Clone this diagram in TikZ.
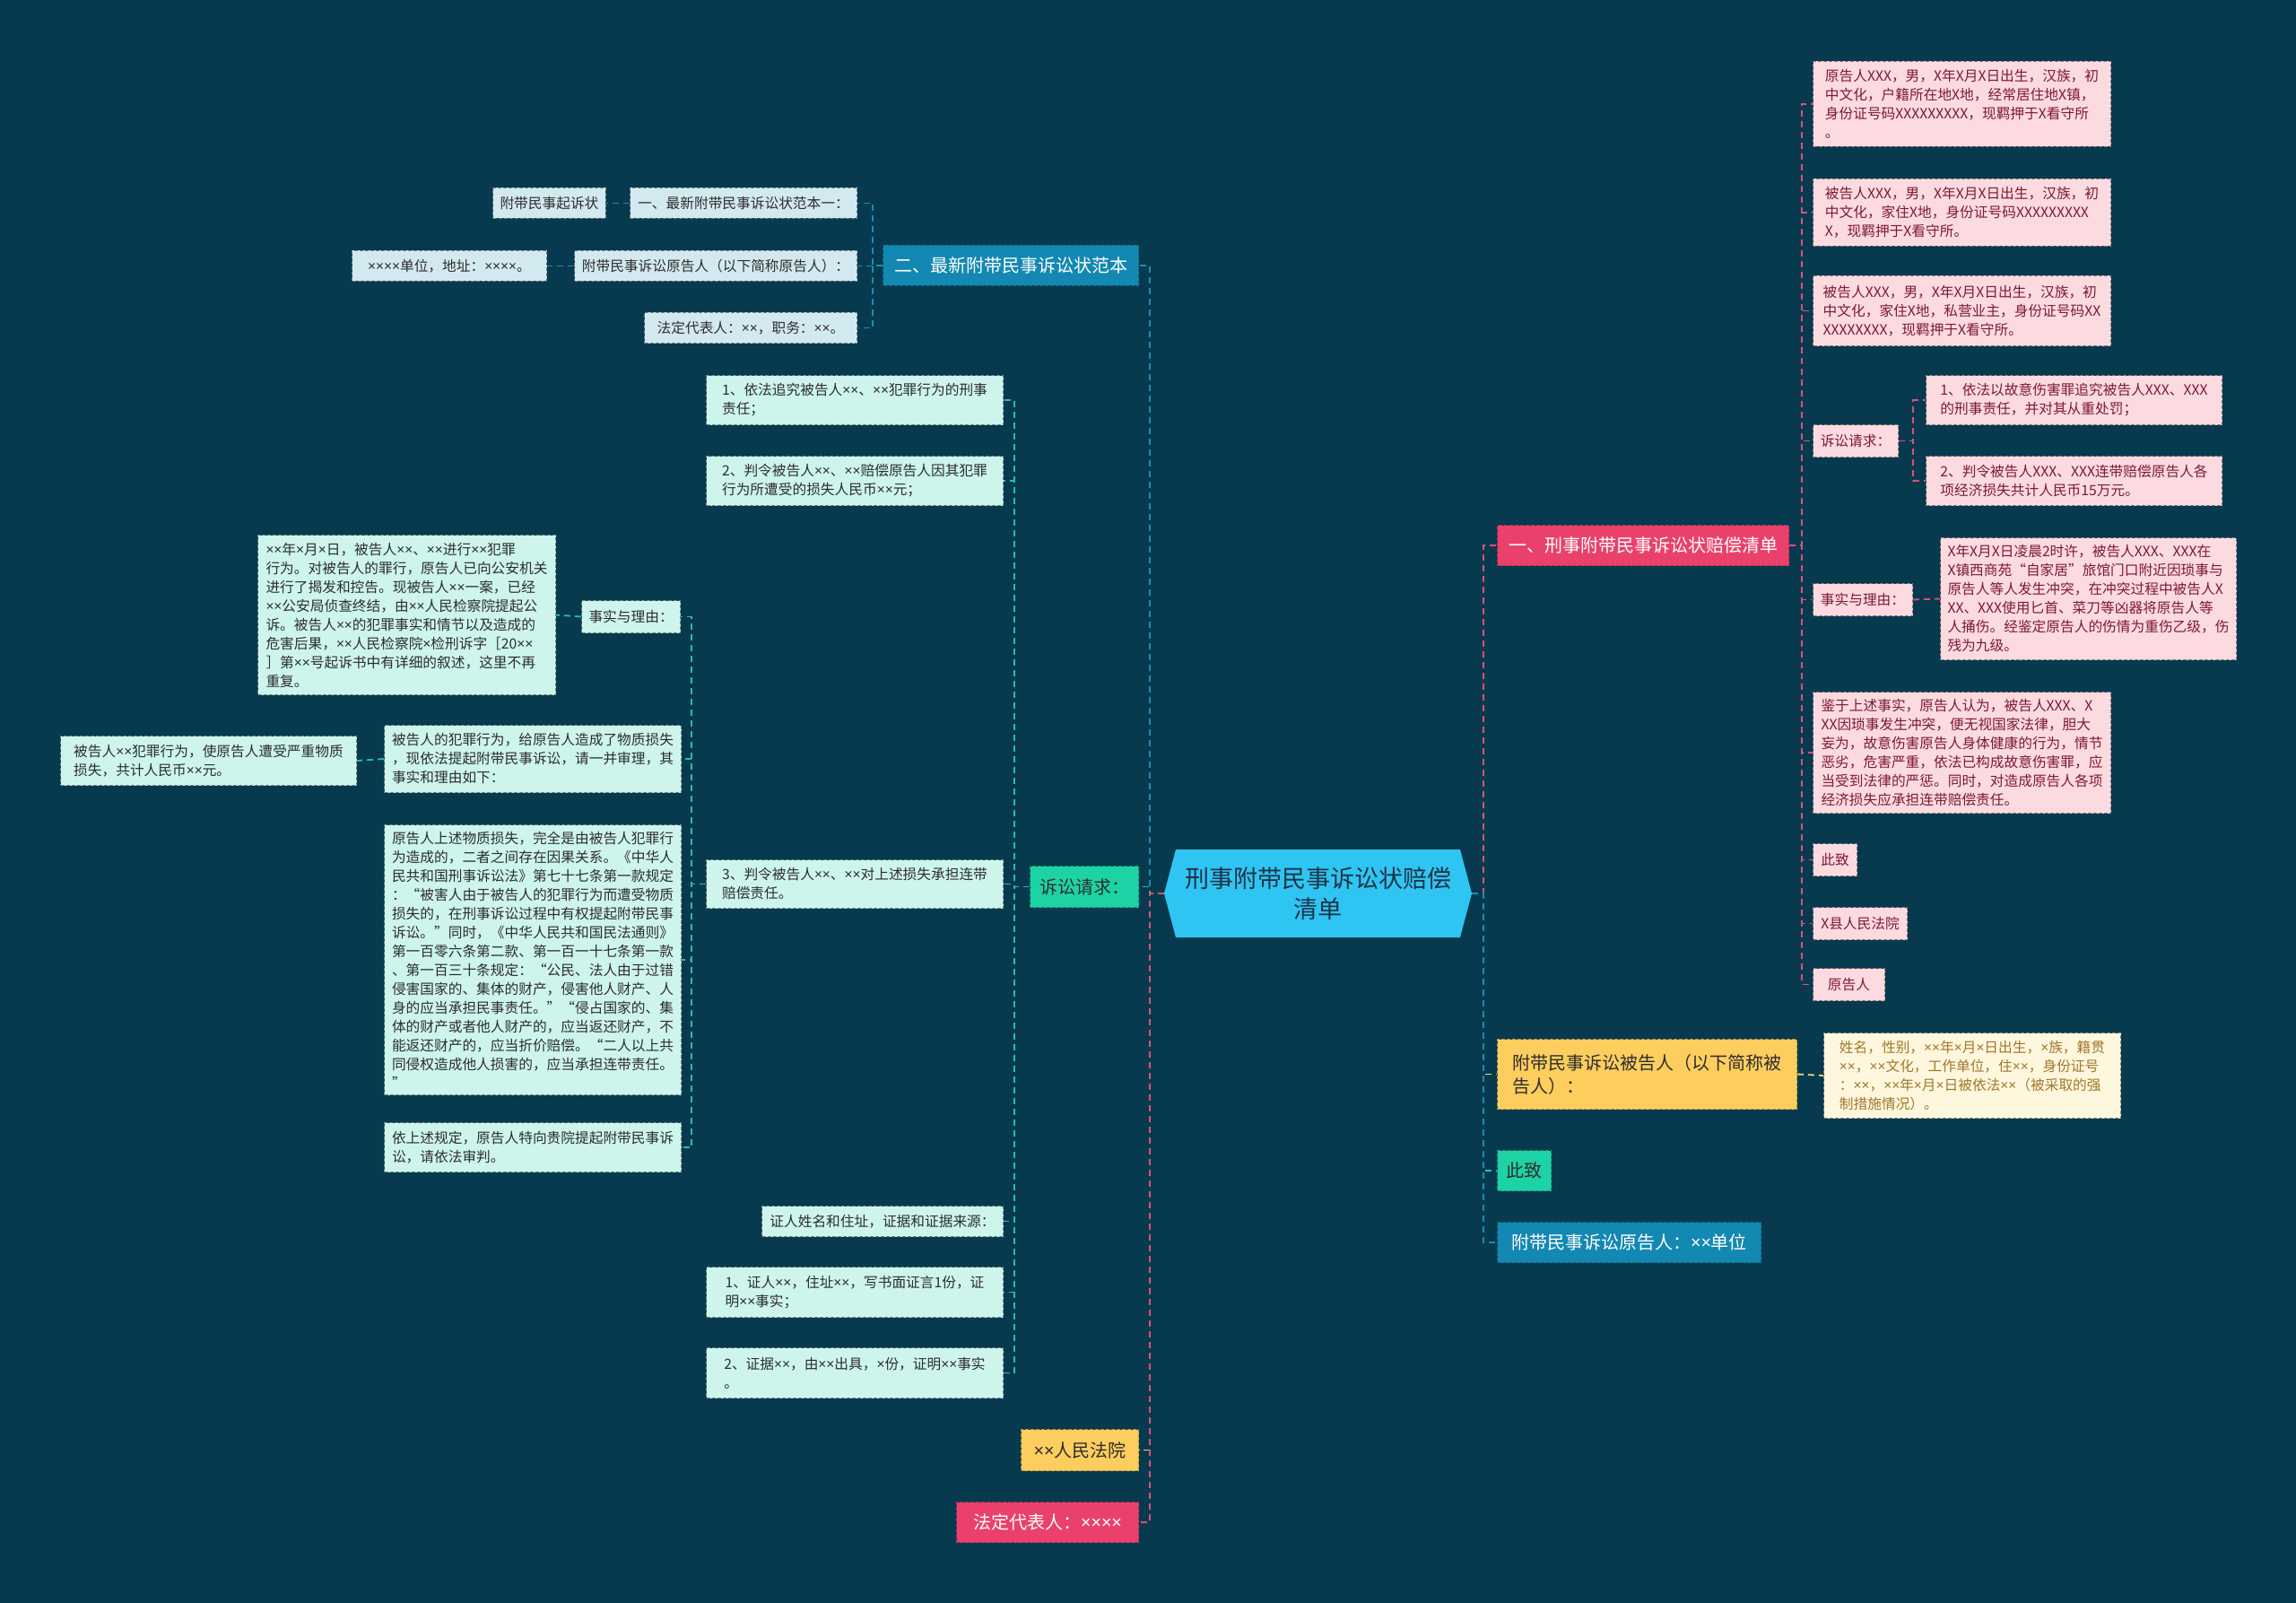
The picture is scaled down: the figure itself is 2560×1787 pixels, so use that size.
\documentclass[tikz,border=0pt]{standalone}
\usepackage{fontspec}
\setmainfont{Noto Sans CJK SC}
\newfontfamily\latf{Noto Sans}
\catcode`\×=\active
\def×{{\latf\symbol{"00D7}}}
\definecolor{bg}{RGB}{7,58,79}
\definecolor{cen}{RGB}{47,197,243}
\definecolor{cent}{RGB}{30,50,70}
\definecolor{blueA}{RGB}{19,136,178}
\definecolor{pinkA}{RGB}{233,65,108}
\definecolor{yelA}{RGB}{253,206,94}
\definecolor{grnA}{RGB}{29,211,165}
\definecolor{lbl}{RGB}{211,233,240}
\definecolor{mint}{RGB}{205,245,236}
\definecolor{pinkL}{RGB}{251,218,224}
\definecolor{yelL}{RGB}{255,246,222}
\definecolor{tpink}{RGB}{125,25,55}
\definecolor{tyel}{RGB}{160,120,40}
\definecolor{tdark}{RGB}{45,45,45}
\definecolor{cB}{RGB}{30,140,180}
\definecolor{cG}{RGB}{40,190,170}
\definecolor{cP}{RGB}{220,80,120}
\definecolor{cY}{RGB}{250,215,120}
\newcommand\fsleaf{\fontsize{15.7pt}{21pt}\selectfont}
\newcommand\fsone{\fontsize{20pt}{26pt}\selectfont}
\newcommand\fscen{\fontsize{27pt}{34pt}\selectfont}
\newcommand\bx[7]{\node[#2, minimum width={#5-#3}, minimum height={#6-#4}] (#1) at (#3,#4) {#7};}
\tikzset{
  base/.style={anchor=north west, align=left, inner xsep=8pt, inner ysep=3pt, dash pattern=on 4pt off 2pt, line width=1pt},
  leafA/.style={base, fill=lbl, draw=lbl!55!black, text=tdark, font=\fsleaf},
  leafB/.style={base, fill=mint, draw=mint!55!black, text=tdark, font=\fsleaf},
  leafP/.style={base, fill=pinkL, draw=pinkL!55!black, text=tpink, font=\fsleaf},
  leafY/.style={base, fill=yelL, draw=yelL!55!black, text=tyel, font=\fsleaf},
  oneB/.style={base, fill=blueA, draw=blueA!75!black, text=white, font=\fsone},
  oneP/.style={base, fill=pinkA, draw=pinkA!75!black, text=white, font=\fsone},
  oneY/.style={base, fill=yelA, draw=yelA!70!black, text=tdark, font=\fsone},
  oneG/.style={base, fill=grnA, draw=grnA!70!black, text=tdark, font=\fsone},
  conn/.style={line width=1.8pt, dash pattern=on 7pt off 5pt},
  lB/.style={conn, draw=cB},
  lG/.style={conn, draw=cG},
  lP/.style={conn, draw=cP},
  lY/.style={conn, draw=cY},
}
\begin{document}
\begin{tikzpicture}[x=1pt,y=-1pt]
\useasboundingbox (0,0) rectangle (2560,1787);
\fill[bg] (0,0) rectangle (2560,1787);

% central node
\fill[cen] (1311,947) -- (1628,947) -- (1641,996) -- (1628,1045) -- (1311,1045) -- (1298,996) -- cycle;
\node[font=\fscen, text=cent, align=center, minimum width=343pt, minimum height=98pt, inner sep=0pt] (C) at (1469.5,996) {刑事附带民事诉讼状赔偿\\清单};

% left level one
\bx{A}{oneB}{984}{273}{1269}{318}{二、最新附带民事诉讼状范本}
\bx{B}{oneG}{1148}{965}{1269}{1011}{诉讼请求：}
\bx{LY}{oneY}{1138}{1593}{1269}{1639}{××人民法院}
\bx{LP}{oneP}{1066}{1674}{1269}{1719}{法定代表人：××××}

% A children
\bx{A1}{leafA}{702}{209}{955}{243}{一、最新附带民事诉讼状范本一：}
\bx{A1c}{leafA}{549}{209}{674}{243}{附带民事起诉状}
\bx{A2}{leafA}{640}{279}{955}{313}{附带民事诉讼原告人（以下简称原告人）：}
\bx{A2c}{leafA}{392}{279}{609}{313}{××××单位，地址：××××。}
\bx{A3}{leafA}{718}{348}{955}{382}{法定代表人：××，职务：××。}

% B children
\bx{B1}{leafB}{787}{418}{1118}{473}{1、依法追究被告人××、××犯罪行为的刑事\\责任；}
\bx{B2}{leafB}{787}{508}{1118}{563}{2、判令被告人××、××赔偿原告人因其犯罪\\行为所遭受的损失人民币××元；}
\bx{B3}{leafB}{787}{958}{1118}{1012}{3、判令被告人××、××对上述损失承担连带\\赔偿责任。}
\bx{B3a}{leafB}{648}{669}{756}{705}{事实与理由：}
\bx{B3ac}{leafB}{287}{596}{619}{774}{××年×月×日，被告人××、××进行××犯罪\\行为。对被告人的罪行，原告人已向公安机关\\进行了揭发和控告。现被告人××一案，已经\\××公安局侦查终结，由××人民检察院提起公\\诉。被告人××的犯罪事实和情节以及造成的\\危害后果，××人民检察院×检刑诉字［20××\\］第××号起诉书中有详细的叙述，这里不再\\重复。}
\bx{B3b}{leafB}{428}{808}{759}{883}{被告人的犯罪行为，给原告人造成了物质损失\\，现依法提起附带民事诉讼，请一并审理，其\\事实和理由如下：}
\bx{B3bc}{leafB}{67}{820}{397}{875}{被告人××犯罪行为，使原告人遭受严重物质\\损失，共计人民币××元。}
\bx{B3c}{leafB}{428}{919}{759}{1220}{原告人上述物质损失，完全是由被告人犯罪行\\为造成的，二者之间存在因果关系。《中华人\\民共和国刑事诉讼法》第七十七条第一款规定\\：“被害人由于被告人的犯罪行为而遭受物质\\损失的，在刑事诉讼过程中有权提起附带民事\\诉讼。”同时，《中华人民共和国民法通则》\\第一百零六条第二款、第一百一十七条第一款\\、第一百三十条规定：“公民、法人由于过错\\侵害国家的、集体的财产，侵害他人财产、人\\身的应当承担民事责任。”“侵占国家的、集\\体的财产或者他人财产的，应当返还财产，不\\能返还财产的，应当折价赔偿。“二人以上共\\同侵权造成他人损害的，应当承担连带责任。\\”}
\bx{B3d}{leafB}{428}{1251}{759}{1306}{依上述规定，原告人特向贵院提起附带民事诉\\讼，请依法审判。}
\bx{B4}{leafB}{849}{1344}{1118}{1378}{证人姓名和住址，证据和证据来源：}
\bx{B5}{leafB}{787}{1412}{1118}{1468}{1、证人××，住址××，写书面证言1份，证\\明××事实；}
\bx{B6}{leafB}{787}{1502}{1118}{1558}{2、证据××，由××出具，×份，证明××事实\\。}

% right level one
\bx{R1}{oneP}{1669}{585}{1994}{630}{一、刑事附带民事诉讼状赔偿清单}
\bx{R2}{oneY}{1669}{1158}{2003}{1236}{附带民事诉讼被告人（以下简称被\\告人）：}
\bx{R3}{oneG}{1669}{1282}{1729}{1327}{此致}
\bx{R4}{oneB}{1669}{1362}{1963}{1407}{附带民事诉讼原告人：××单位}

% R1 children
\bx{P1}{leafP}{2021}{68}{2353}{163}{原告人XXX，男，X年X月X日出生，汉族，初\\中文化，户籍所在地X地，经常居住地X镇，\\身份证号码XXXXXXXXX，现羁押于X看守所\\。}
\bx{P2}{leafP}{2021}{199}{2353}{274}{被告人XXX，男，X年X月X日出生，汉族，初\\中文化，家住X地，身份证号码XXXXXXXXX\\X，现羁押于X看守所。}
\bx{P3}{leafP}{2021}{307}{2353}{385}{被告人XXX，男，X年X月X日出生，汉族，初\\中文化，家住X地，私营业主，身份证号码XX\\XXXXXXXX，现羁押于X看守所。}
\bx{P4}{leafP}{2021}{473}{2116}{509}{诉讼请求：}
\bx{P4a}{leafP}{2147}{418}{2477}{473}{1、依法以故意伤害罪追究被告人XXX、XXX\\的刑事责任，并对其从重处罚；}
\bx{P4b}{leafP}{2147}{508}{2477}{563}{2、判令被告人XXX、XXX连带赔偿原告人各\\项经济损失共计人民币15万元。}
\bx{P5}{leafP}{2021}{650}{2132}{686}{事实与理由：}
\bx{P5c}{leafP}{2163}{599}{2493}{735}{X年X月X日凌晨2时许，被告人XXX、XXX在\\X镇西商苑“自家居”旅馆门口附近因琐事与\\原告人等人发生冲突，在冲突过程中被告人X\\XX、XXX使用匕首、菜刀等凶器将原告人等\\人捅伤。经鉴定原告人的伤情为重伤乙级，伤\\残为九级。}
\bx{P6}{leafP}{2021}{771}{2353}{906}{鉴于上述事实，原告人认为，被告人XXX、X\\XX因琐事发生冲突，便无视国家法律，胆大\\妄为，故意伤害原告人身体健康的行为，情节\\恶劣，危害严重，依法已构成故意伤害罪，应\\当受到法律的严惩。同时，对造成原告人各项\\经济损失应承担连带赔偿责任。}
\bx{P7}{leafP}{2021}{940}{2070}{976}{此致}
\bx{P8}{leafP}{2021}{1011}{2126}{1047}{X县人民法院}
\bx{P9}{leafP}{2021}{1079}{2101}{1115}{原告人}

% R2 child
\bx{Y1}{leafY}{2033}{1151}{2364}{1246}{姓名，性别，××年×月×日出生，×族，籍贯\\××，××文化，工作单位，住××，身份证号\\：××，××年×月×日被依法××（被采取的强\\制措施情况）。}

% connectors: centre to level one
\draw[lB] (C.west) -- ++(-16,0) |- (A.east);
\draw[lG] (C.west) -- ++(-16,0) |- (B.east);
\draw[lY] (C.west) -- ++(-16,0) |- (LY.east);
\draw[lP] (C.west) -- ++(-16,0) |- (LP.east);
\draw[lP] (C.east) -- ++(13,0) |- (R1.west);
\draw[lY] (C.east) -- ++(13,0) |- (R2.west);
\draw[lG] (C.east) -- ++(13,0) |- (R3.west);
\draw[lB] (C.east) -- ++(13,0) |- (R4.west);

% A branch
\draw[lB] (A.west) -- ++(-11,0) |- (A1.east);
\draw[lB] (A.west) -- ++(-11,0) |- (A2.east);
\draw[lB] (A.west) -- ++(-11,0) |- (A3.east);
\draw[lB] (A1.west) -- (A1c.east);
\draw[lB] (A2.west) -- (A2c.east);

% B branch
\draw[lG] (B.west) -- ++(-17,0) |- (B1.east);
\draw[lG] (B.west) -- ++(-17,0) |- (B2.east);
\draw[lG] (B.west) -- ++(-17,0) |- (B3.east);
\draw[lG] (B.west) -- ++(-17,0) |- (B4.east);
\draw[lG] (B.west) -- ++(-17,0) |- (B5.east);
\draw[lG] (B.west) -- ++(-17,0) |- (B6.east);
\draw[lG] (B3.west) -- ++(-16,0) |- (B3a.east);
\draw[lG] (B3.west) -- ++(-16,0) |- (B3b.east);
\draw[lG] (B3.west) -- ++(-16,0) |- (B3c.east);
\draw[lG] (B3.west) -- ++(-16,0) |- (B3d.east);
\draw[lG] (B3a.west) -- (B3ac.east);
\draw[lG] (B3b.west) -- (B3bc.east);

% R1 branch
\foreach \n in {P1,P2,P3,P4,P5,P6,P7,P8,P9}{
  \draw[lP] (R1.east) -- ++(14,0) |- (\n.west);
}
\draw[lP] (P4.east) -- ++(16,0) |- (P4a.west);
\draw[lP] (P4.east) -- ++(16,0) |- (P4b.west);
\draw[lP] (P5.east) -- (P5c.west);

% R2 branch
\draw[lY] (R2.east) -- (Y1.west);
\end{tikzpicture}
\end{document}
